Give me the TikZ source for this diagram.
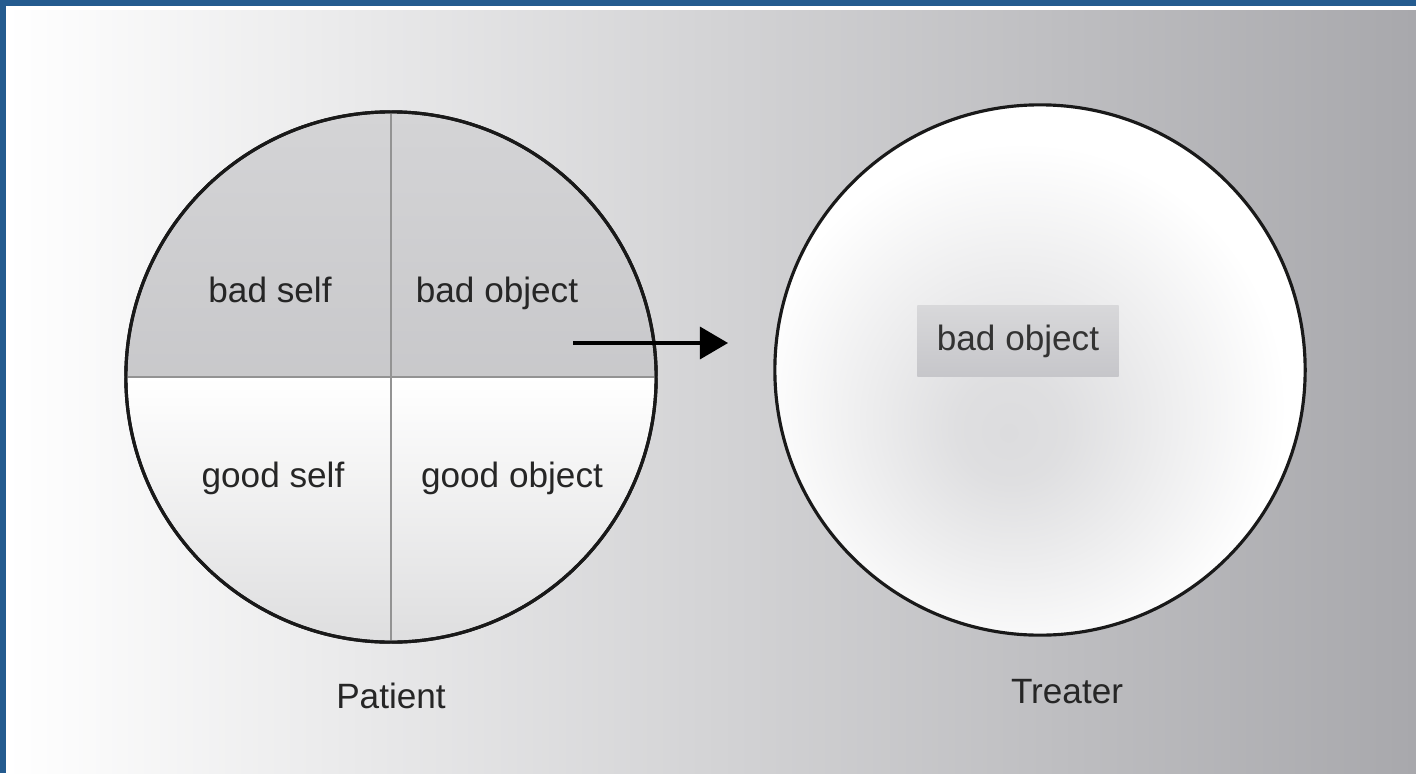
\documentclass[tikz,border=0pt]{standalone}
\usepackage{fontspec}
\setmainfont{Liberation Sans}
\usetikzlibrary{arrows.meta}
\definecolor{frameblue}{HTML}{245B8F}
\definecolor{bgmid}{HTML}{DADADC}
\definecolor{bgright}{HTML}{A8A8AC}
\definecolor{badtop}{HTML}{D4D4D6}
\definecolor{badbottom}{HTML}{BDBDC0}
\definecolor{goodbottom}{HTML}{DEDEDF}
\definecolor{boxtop}{HTML}{D8D8DA}
\definecolor{boxbottom}{HTML}{C6C6CA}
\definecolor{glowcore}{HTML}{DCDCDE}
\pgfdeclareradialshading{treaterglow}{\pgfpoint{-3bp}{-6bp}}{%
  color(0bp)=(glowcore); color(5bp)=(glowcore!92!white);
  color(25bp)=(white); color(60bp)=(white)}

\begin{document}
\begin{tikzpicture}[x=0.01cm,y=-0.01cm,
  quadtext/.style={font=\fontsize{10}{12}\selectfont, text=black!85, anchor=base},
  ring/.style={circle, minimum size=5.3cm, inner sep=0pt, draw=black!90, line width=0.9pt},
  divider/.style={draw=gray!85, line width=0.6pt}]
  \useasboundingbox (0,0) rectangle (1416,773);

  % Background and frame
  \shade[left color=white, middle color=bgmid, right color=bgright] (6,11) rectangle (1416,773);
  \fill[frameblue] (0,0) rectangle (1416,6);
  \fill[frameblue] (0,0) rectangle (6,773);

  % Patient circle with its four parts
  \node[ring, path picture={
      \shade[top color=badtop, bottom color=badbottom]
        (path picture bounding box.north west) rectangle (path picture bounding box.east);
      \shade[top color=white, bottom color=goodbottom]
        (path picture bounding box.west) rectangle (path picture bounding box.south east);
    }] (patient) at (391,377) {};
  \draw[divider] (patient.north) -- (patient.south);
  \draw[divider] (patient.west) -- (patient.east);
  \draw[black!90, line width=0.9pt] (patient) circle (2.65cm);

  \node[quadtext] (badself) at (270,302) {bad self};
  \node[quadtext] (badobject) at (497,302) {bad object};
  \node[quadtext] (goodself) at (273,487) {good self};
  \node[quadtext] (goodobject) at (512,487) {good object};

  % Treater circle
  \node[ring, shading=treaterglow] (treater) at (1040,370) {};
  \node[font=\fontsize{10}{12}\selectfont, text=black!80, top color=boxtop, bottom color=boxbottom,
    minimum width=2.01cm, minimum height=0.70cm] (projected) at (1018,341) {bad object};

  % Projection
  \coordinate (from) at (573,343);
  \coordinate (to) at (728,343);
  \draw[-{Triangle[length=0.28cm,width=0.32cm]}, line width=0.9pt] (from) -- (to);

  % Names
  \node[quadtext] (patientname) at (391,708) {Patient};
  \node[quadtext] (treatername) at (1067,703) {Treater};
\end{tikzpicture}
\end{document}
